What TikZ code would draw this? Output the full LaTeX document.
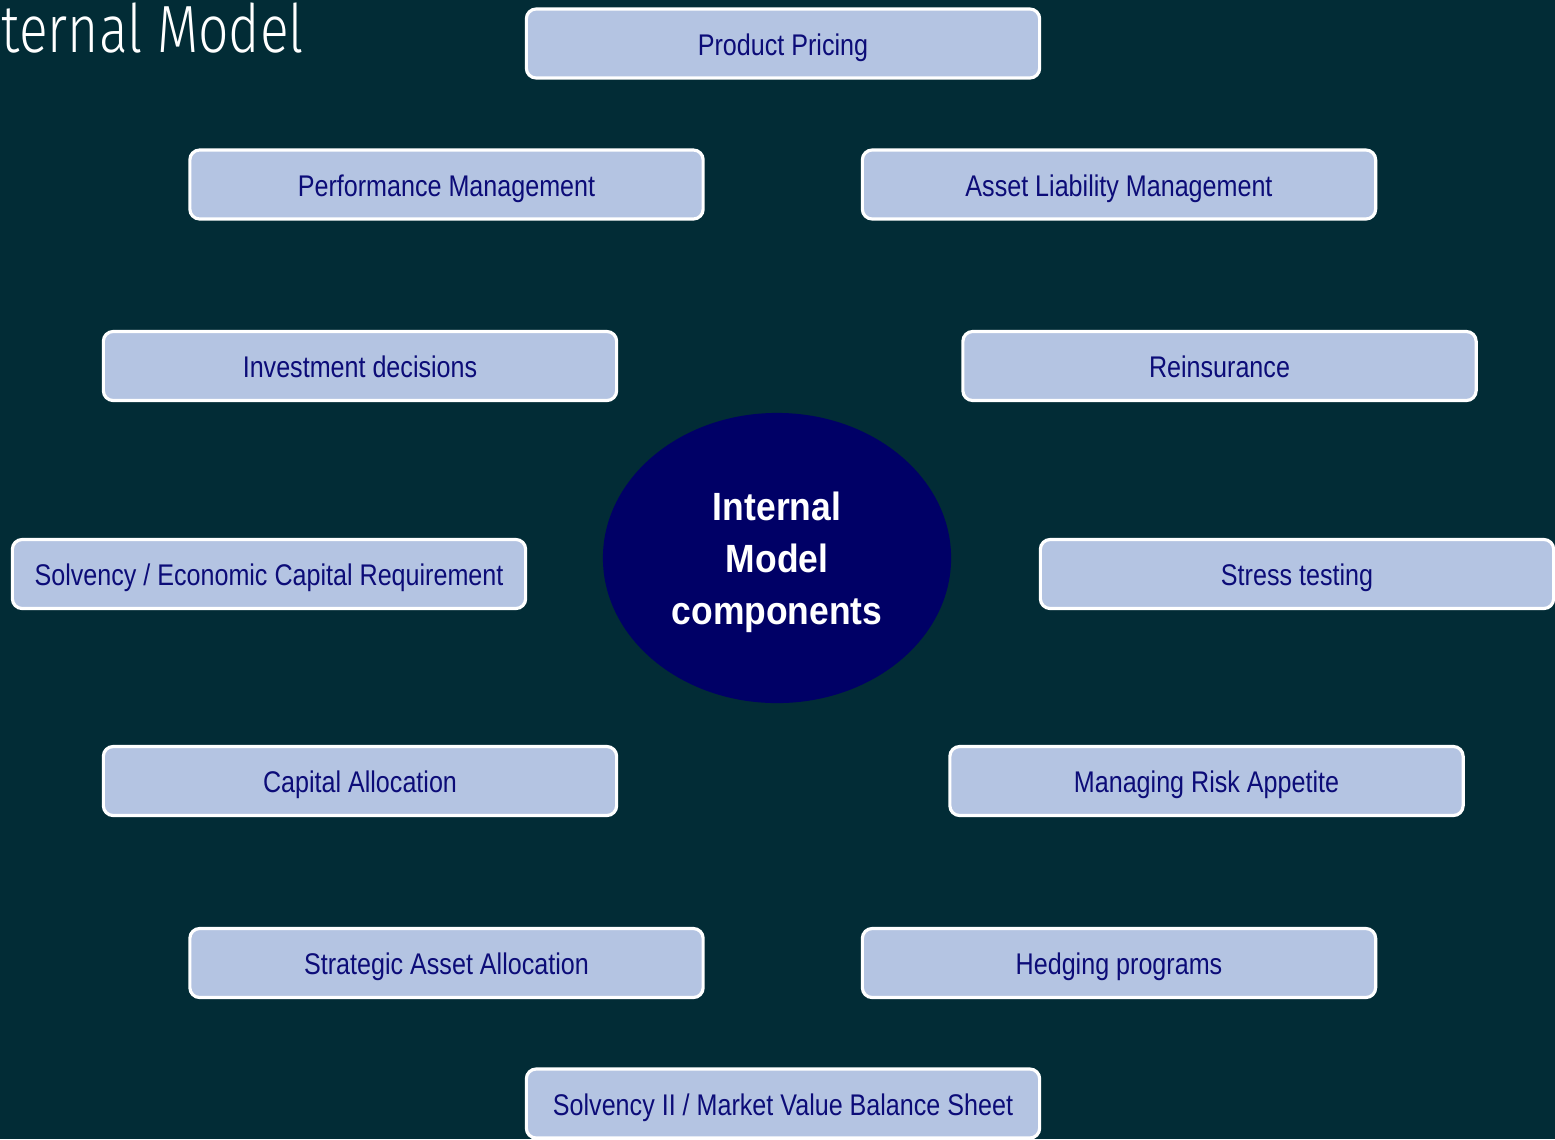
\documentclass[tikz,border=0pt]{standalone}
\usepackage{fontspec}
\setmainfont{Liberation Sans}
\newfontfamily\boxfont[FakeStretch=0.84]{Liberation Sans}
\newfontfamily\corefont[FakeStretch=0.9]{Liberation Sans}
\newfontfamily\titlefont[FakeStretch=0.8]{Fira Sans Light}
\usetikzlibrary{shapes.geometric}
\definecolor{bgteal}{HTML}{022C36}
\definecolor{boxblue}{HTML}{B4C4E2}
\definecolor{navytext}{HTML}{0C0C78}
\definecolor{corenavy}{HTML}{000066}
\tikzset{
  compbox/.style={draw=white, line width=0.9pt, fill=boxblue, rounded corners=2.8pt,
    minimum width=5.13cm, minimum height=0.69cm, inner sep=0pt, text=navytext,
    text height=1.45ex, text depth=0.2ex,
    font=\boxfont\fontsize{8.5}{10}\selectfont},
  core/.style={ellipse, fill=corenavy, minimum width=3.48cm, minimum height=2.9cm,
    inner sep=0pt},
  corelabel/.style={text=white, align=center, inner sep=0pt,
    font=\corefont\bfseries\fontsize{11.2}{14.8}\selectfont}
}
\begin{document}
\begin{tikzpicture}[x=0.01cm,y=-0.01cm]
	\fill[bgteal] (0,0) rectangle (1555,1139);
	\useasboundingbox (0,0) rectangle (1555,1139);
	\node[anchor=base west,text=white,inner sep=0pt,font=\titlefont\fontsize{19}{19}\selectfont] (title) at (1,52) {ternal Model};
	% centre
	\node[core] (core) at (777,558) {};
	\node[corelabel] (coretext) at (777,562) {Internal\\Model\\components};
	% boxes
	\node[compbox] (pricing) at (783,43.5) {Product Pricing};
	\node[compbox] (perf) at (446.5,184.5) {Performance Management};
	\node[compbox] (alm) at (1119,184.5) {Asset Liability Management};
	\node[compbox] (invest) at (360,366) {Investment decisions};
	\node[compbox] (reins) at (1219.5,366) {Reinsurance};
	\node[compbox] (solvency) at (269,574) {Solvency / Economic Capital Requirement};
	\node[compbox] (stress) at (1297,574) {Stress testing};
	\node[compbox] (capalloc) at (360,781) {Capital Allocation};
	\node[compbox] (appetite) at (1206.5,781) {Managing Risk Appetite};
	\node[compbox] (saa) at (446.5,963) {Strategic Asset Allocation};
	\node[compbox] (hedging) at (1119,963) {Hedging programs};
	\node[compbox] (mvbs) at (783,1103.5) {Solvency II / Market Value Balance Sheet};
\end{tikzpicture}
\end{document}
